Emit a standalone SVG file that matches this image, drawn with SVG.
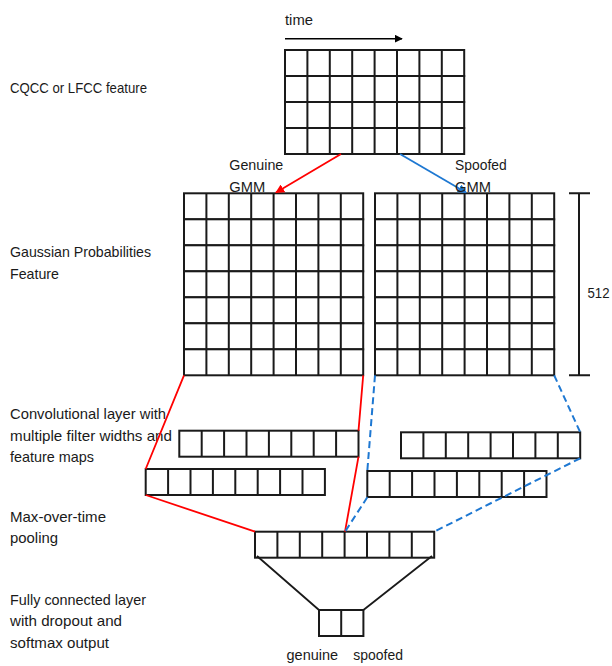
<svg xmlns="http://www.w3.org/2000/svg" xmlns:xlink="http://www.w3.org/1999/xlink" width="612" height="666" viewBox="0 0 612 666">
<style>
.cell{fill:#fff;stroke:#1a1a1a;stroke-width:2}
.ln{stroke:#1a1a1a;stroke-width:2;fill:none}
.lbl{font-family:"Liberation Sans",Arial,sans-serif;font-size:15px;fill:#1a1a1a}
.red{stroke:#ff0000;stroke-width:1.8;fill:none}
.blue{stroke:#1e78d2;stroke-width:1.8;fill:none}
.dash{stroke:#1e78d2;stroke-width:2;fill:none;stroke-dasharray:7 4}
.blk{stroke:#1a1a1a;stroke-width:1.8;fill:none}
</style>
<defs>
<g id="row8">
<rect class="cell" x="0" y="0" width="179.2" height="26"/>
<path class="ln" d="M22.4 0V26M44.8 0V26M67.2 0V26M89.6 0V26M112 0V26M134.4 0V26M156.8 0V26"/>
</g>
<marker id="ahRed" viewBox="0 0 10 10" refX="9" refY="5" markerWidth="5" markerHeight="5" orient="auto" markerUnits="strokeWidth"><path d="M0 0L10 5L0 10z" fill="#ff0000"/></marker>
<marker id="ahBlue" viewBox="0 0 10 10" refX="9" refY="5" markerWidth="5" markerHeight="5" orient="auto" markerUnits="strokeWidth"><path d="M0 0L10 5L0 10z" fill="#1e78d2"/></marker>
<marker id="ahBlk" viewBox="0 0 10 10" refX="9" refY="5" markerWidth="5" markerHeight="5" orient="auto" markerUnits="strokeWidth"><path d="M0 0L10 5L0 10z" fill="#000"/></marker>
</defs>

<g id="side-labels">
<text class="lbl" x="10" y="93" textLength="137" lengthAdjust="spacingAndGlyphs">CQCC or LFCC feature</text>
<text class="lbl" x="10" y="257" textLength="141" lengthAdjust="spacingAndGlyphs">Gaussian Probabilities</text>
<text class="lbl" x="10" y="279" textLength="49" lengthAdjust="spacingAndGlyphs">Feature</text>
<text class="lbl" x="10" y="419" textLength="156" lengthAdjust="spacingAndGlyphs">Convolutional layer with</text>
<text class="lbl" x="10" y="441" textLength="162" lengthAdjust="spacingAndGlyphs">multiple filter widths and</text>
<text class="lbl" x="10" y="462" textLength="84" lengthAdjust="spacingAndGlyphs">feature maps</text>
<text class="lbl" x="10" y="522" textLength="96" lengthAdjust="spacingAndGlyphs">Max-over-time</text>
<text class="lbl" x="10" y="543" textLength="48" lengthAdjust="spacingAndGlyphs">pooling</text>
<text class="lbl" x="10" y="605" textLength="136" lengthAdjust="spacingAndGlyphs">Fully connected layer</text>
<text class="lbl" x="10" y="626" textLength="112" lengthAdjust="spacingAndGlyphs">with dropout and</text>
<text class="lbl" x="10" y="648" textLength="99" lengthAdjust="spacingAndGlyphs">softmax output</text>
</g>

<g id="time-axis">
<text class="lbl" x="285" y="25" textLength="28" lengthAdjust="spacingAndGlyphs">time</text>
<line x1="285" y1="38.7" x2="402" y2="38.7" stroke="#000" stroke-width="1.6" marker-end="url(#ahBlk)"/>
</g>

<g id="input-feature">
<use xlink:href="#row8" x="285" y="50"/>
<use xlink:href="#row8" x="285" y="76"/>
<use xlink:href="#row8" x="285" y="102"/>
<use xlink:href="#row8" x="285" y="128"/>
</g>

<g id="genuine-gmm">
<use xlink:href="#row8" x="184" y="193.3"/>
<use xlink:href="#row8" x="184" y="219.3"/>
<use xlink:href="#row8" x="184" y="245.3"/>
<use xlink:href="#row8" x="184" y="271.3"/>
<use xlink:href="#row8" x="184" y="297.3"/>
<use xlink:href="#row8" x="184" y="323.3"/>
<use xlink:href="#row8" x="184" y="349.3"/>
</g>

<g id="spoofed-gmm">
<use xlink:href="#row8" x="375" y="193.3"/>
<use xlink:href="#row8" x="375" y="219.3"/>
<use xlink:href="#row8" x="375" y="245.3"/>
<use xlink:href="#row8" x="375" y="271.3"/>
<use xlink:href="#row8" x="375" y="297.3"/>
<use xlink:href="#row8" x="375" y="323.3"/>
<use xlink:href="#row8" x="375" y="349.3"/>
</g>

<g id="scale-512">
<path class="ln" d="M569 193.3H590M579 193.3V375.3M569 375.3H590"/>
<text class="lbl" x="587.5" y="298" textLength="22" lengthAdjust="spacingAndGlyphs">512</text>
</g>

<g id="conv-genuine-1"><use xlink:href="#row8" x="179.3" y="430.7"/></g>
<g id="conv-genuine-2"><use xlink:href="#row8" x="145.7" y="469"/></g>
<g id="conv-spoofed-1"><use xlink:href="#row8" x="401" y="432.3"/></g>
<g id="conv-spoofed-2"><use xlink:href="#row8" x="367.3" y="471"/></g>

<g id="pooling"><use xlink:href="#row8" x="255" y="531.7"/></g>

<g id="fc-output">
<rect class="cell" x="319" y="610" width="44.4" height="26"/>
<path class="ln" d="M341.2 610V636"/>
<text class="lbl" x="286.5" y="660" textLength="51.6" lengthAdjust="spacingAndGlyphs">genuine</text>
<text class="lbl" x="353.3" y="660" textLength="49.7" lengthAdjust="spacingAndGlyphs">spoofed</text>
</g>

<g id="connectors">
<line class="red" x1="341" y1="154" x2="276" y2="192.5" marker-end="url(#ahRed)"/>
<line class="blue" x1="400" y1="154" x2="466" y2="192.5" marker-end="url(#ahBlue)"/>
<path class="red" d="M184 375.3L145.7 469M145.7 495L255 531.7M363.2 375.3L358.5 430.7M358.5 456.7L345 531.7"/>
<path class="dash" d="M375 375.3L367.3 471M367.3 497.3L345 531.7M554.2 375.3L580.2 432.3M580.2 458.3L434.2 531.7"/>
<path class="blk" d="M257 556L319 610M432 556L363.4 610"/>
</g>

<g id="gmm-labels">
<text class="lbl" x="229.3" y="170" textLength="54" lengthAdjust="spacingAndGlyphs">Genuine</text>
<text class="lbl" x="229.3" y="192" textLength="36" lengthAdjust="spacingAndGlyphs">GMM</text>
<text class="lbl" x="455" y="170" textLength="51.7" lengthAdjust="spacingAndGlyphs">Spoofed</text>
<text class="lbl" x="455" y="192" textLength="36" lengthAdjust="spacingAndGlyphs">GMM</text>
</g>
</svg>
